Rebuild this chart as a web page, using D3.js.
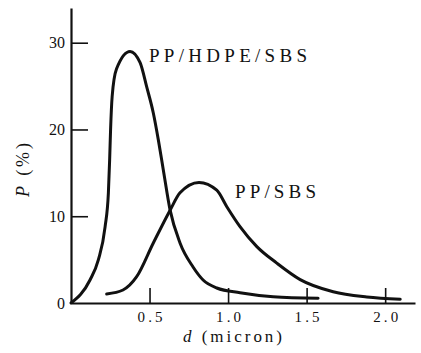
<!DOCTYPE html>
<html><head><meta charset="utf-8">
<script src="https://cdn.jsdelivr.net/npm/d3@7/dist/d3.min.js"></script>
<style>
html,body{margin:0;padding:0;background:#fff;}
</style></head>
<body><svg id="c" width="421" height="353"></svg>
<script>
// Data
const hdpeD = [0, 0.121, 0.174, 0.217, 0.238, 0.246, 0.252, 0.262, 0.290, 0.376, 0.44, 0.482, 0.524, 0.556, 0.588, 0.631, 0.694, 0.777, 0.841, 0.928, 1.076, 1.287, 1.573];
const hdpeP = [0, 2.65, 4.96, 8.77, 12.7, 16.5, 20.0, 23.8, 27.0, 29.0, 27.7, 24.9, 21.9, 18.8, 15.3, 10.7, 6.92, 4.15, 2.65, 1.73, 1.19, 0.73, 0.55];
const sbsD = [0.227, 0.331, 0.418, 0.524, 0.631, 0.694, 0.815, 0.928, 0.992, 1.076, 1.183, 1.31, 1.459, 1.669, 1.883, 2.096];
const sbsP = [1.04, 1.5, 3.03, 6.92, 10.7, 12.7, 13.9, 13.0, 11.1, 8.8, 6.5, 4.6, 2.7, 1.3, 0.7, 0.43];
const xTicks = [0.5, 1.0, 1.5, 2.0];
const yTicks = [0, 10, 20, 30];
const seriesNames = ["PP/HDPE/SBS", "PP/SBS"];

const FONT = "Liberation Serif";
const svg = d3.select("#c");
const x = d3.scaleLinear().domain([0, 2.19]).range([71, 415]);
const y = d3.scaleLinear().domain([0, 34]).range([303, 8]);

const ink = "#111";
const xAxis = d3.axisBottom(x).tickValues(xTicks).tickSizeInner(-15).tickSizeOuter(0)
  .tickFormat(d3.format(".1f"));
const gx = svg.append("g").attr("transform", `translate(0,${y(0)})`).call(xAxis);
gx.attr("font-family", FONT).attr("font-size", 15);
gx.select(".domain").attr("stroke", ink).attr("stroke-width", 2.2);
gx.selectAll(".tick line").attr("stroke", ink).attr("stroke-width", 1.6);
gx.selectAll(".tick text").attr("fill", ink).attr("y", 19).attr("dy", 0)
  .attr("textLength", 25).attr("lengthAdjust", "spacing");

const yAxis = d3.axisLeft(y).tickValues(yTicks).tickSizeInner(-17).tickSizeOuter(0).tickFormat(d3.format("d"));
const gy = svg.append("g").attr("transform", `translate(${x(0)},0)`).call(yAxis);
gy.attr("font-family", FONT).attr("font-size", 16);
gy.select(".domain").attr("stroke", ink).attr("stroke-width", 2.2);
gy.selectAll(".tick line").attr("stroke", ink).attr("stroke-width", 1.6);
gy.selectAll(".tick line").filter(d => d === 0).remove();
gy.selectAll(".tick text").attr("fill", ink).attr("x", -6);

// curves
const line = d3.line().x(d => x(d[0])).y(d => y(d[1])).curve(d3.curveMonotoneX);
const s1 = hdpeD.map((d, i) => [d, hdpeP[i]]);
const s2 = sbsD.map((d, i) => [d, sbsP[i]]);
[s1, s2].forEach(s => {
  svg.append("path").datum(s).attr("d", line).attr("fill", "none")
    .attr("stroke", ink).attr("stroke-width", 3).attr("stroke-linejoin", "round").attr("stroke-linecap", "round");
});

// series labels
svg.append("text").attr("x", 149).attr("y", 62).attr("font-family", FONT).attr("fill", ink)
  .attr("font-size", 19).attr("textLength", 158).attr("lengthAdjust", "spacing").text(seriesNames[0]);
svg.append("text").attr("x", 235).attr("y", 198).attr("font-family", FONT).attr("fill", ink)
  .attr("font-size", 19).attr("textLength", 81).attr("lengthAdjust", "spacing").text(seriesNames[1]);

// axis titles
const xt = svg.append("text").attr("x", 183).attr("y", 342)
  .attr("font-family", FONT).attr("fill", ink).attr("font-size", 17)
  .attr("textLength", 99).attr("lengthAdjust", "spacing");
xt.append("tspan").attr("font-style", "italic").text("d");
xt.append("tspan").text(" (micron)");
const yt = svg.append("text").attr("transform", "translate(29,197) rotate(-90)")
  .attr("font-family", FONT).attr("fill", ink).attr("font-size", 18)
  .attr("textLength", 54).attr("lengthAdjust", "spacing");
yt.append("tspan").attr("font-style", "italic").text("P");
yt.append("tspan").text(" (%)");
</script></body></html>
